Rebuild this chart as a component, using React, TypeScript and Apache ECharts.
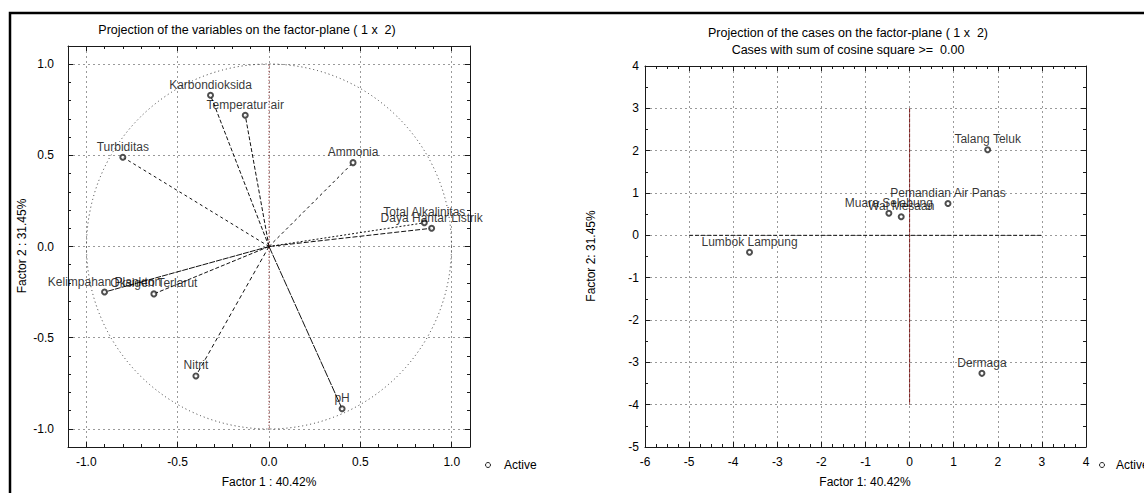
import React, { useEffect, useRef } from "react";
import * as echarts from "echarts";

const FONT = "'Liberation Sans', Arial, Helvetica, sans-serif";

// ---- Left plot: projection of the variables ----
const variableNames = [
  "Karbondioksida",
  "Temperatur air",
  "Turbiditas",
  "Ammonia",
  "Total Alkalinitas",
  "Daya Hantar Listrik",
  "Kelimpahan Plankton",
  "Oksigen Terlarut",
  "Nitrit",
  "pH",
];
const variableFactor1 = [-0.32, -0.13, -0.8, 0.46, 0.85, 0.89, -0.9, -0.63, -0.4, 0.4];
const variableFactor2 = [0.83, 0.72, 0.49, 0.46, 0.13, 0.1, -0.25, -0.26, -0.71, -0.89];
const variableTicks = [-1, -0.5, 0, 0.5, 1];
const unitCircle = [[0, 0, 1]];

// ---- Right plot: projection of the cases ----
const caseNames = [
  "Talang Teluk",
  "Pemandian Air Panas",
  "Muara Selabung",
  "Wai Mesaan",
  "Lumbok Lampung",
  "Dermaga",
];
const caseFactor1 = [1.77, 0.87, -0.47, -0.19, -3.63, 1.64];
const caseFactor2 = [2.02, 0.75, 0.52, 0.44, -0.4, -3.26];
const caseXRange = [-6, 4];
const caseYRange = [-5, 4];
const caseHorizontalRef = [[-5, 0], [3, 0]];
const caseVerticalRef = [[0, 3], [0, -4]];
const variableVerticalRef = [[0, -1], [0, 1]];

// styles (not data)
const vectorDash = [[4, 2], [4, 2], [3, 3], [3, 3], [2, 2], [5, 2], [6, 1], [4, 2], [4, 3], [8, 1]];

const GRID_LINE = { color: "#9a9a9a", type: [2, 3] as number[], width: 1 };
const AX = "#1a1a1a";

function valueAxis(
  gridIndex: number,
  position: string,
  min: number,
  max: number,
  opts: any
) {
  const main = position === "bottom" || position === "left";
  return {
    type: "value",
    gridIndex,
    position,
    min,
    max,
    ...(opts.interval ? { interval: opts.interval } : {}),
    axisLine: { show: true, onZero: false, lineStyle: { color: AX, width: 1 } },
    axisTick: {
      show: true,
      inside: true,
      length: 5,
      lineStyle: { color: AX },
      ...(opts.custom ? { customValues: opts.custom } : {}),
    },
    minorTick: { show: true, splitNumber: opts.minor, length: 3, lineStyle: { color: AX } },
    axisLabel: {
      show: main,
      color: "#000",
      fontSize: 12,
      fontFamily: FONT,
      margin: opts.margin,
      ...(opts.custom ? { customValues: opts.custom } : {}),
      ...(opts.formatter ? { formatter: opts.formatter } : {}),
    },
    splitLine: { show: main, lineStyle: GRID_LINE },
  };
}

function txt(text: string, x: number, y: number, extra: any = {}) {
  return {
    type: "text",
    x,
    y,
    silent: true,
    ...extra,
    style: {
      text,
      fill: "#000",
      fontSize: 12,
      fontFamily: FONT,
      align: "center",
      verticalAlign: "middle",
      ...(extra.style || {}),
    },
  };
}

export default function App() {
  const ref = useRef<HTMLDivElement>(null);

  useEffect(() => {
    if (!ref.current) return;
    const chart = echarts.init(ref.current, null, { renderer: "svg" });
    const fmt1 = (v: number) => v.toFixed(1);

    const variablePoints = variableNames.map((n, i) => ({
      name: n,
      value: [variableFactor1[i], variableFactor2[i]],
    }));
    const variableVectors = variableNames.map((n, i) => ({
      coords: [
        [0, 0],
        [variableFactor1[i], variableFactor2[i]],
      ],
      lineStyle: { type: vectorDash[i] },
    }));
    const casePoints = caseNames.map((n, i) => ({
      name: n,
      value: [caseFactor1[i], caseFactor2[i]],
    }));

    const labelStyle = {
      show: true,
      position: "top",
      distance: 1,
      formatter: "{b}",
      color: "#000",
      textBorderWidth: 0,
      fontSize: 12,
      fontFamily: FONT,
    };

    const option: any = {
      animation: false,
      backgroundColor: "#fff",
      textStyle: { fontFamily: FONT },
      grid: [
        { left: 68, top: 46, width: 402, height: 401, outerBoundsMode: "none", containLabel: false },
        { left: 645, top: 66, width: 441, height: 381, outerBoundsMode: "none", containLabel: false },
      ],
      xAxis: [
        valueAxis(0, "bottom", -1.1, 1.1, { custom: variableTicks, minor: 5, margin: 9, formatter: fmt1 }),
        valueAxis(0, "top", -1.1, 1.1, { custom: variableTicks, minor: 5 }),
        valueAxis(1, "bottom", caseXRange[0], caseXRange[1], { interval: 1, minor: 4, margin: 9 }),
        valueAxis(1, "top", caseXRange[0], caseXRange[1], { interval: 1, minor: 4 }),
      ],
      yAxis: [
        valueAxis(0, "left", -1.1, 1.1, { custom: variableTicks, minor: 5, margin: 14, formatter: fmt1 }),
        valueAxis(0, "right", -1.1, 1.1, { custom: variableTicks, minor: 5 }),
        valueAxis(1, "left", caseYRange[0], caseYRange[1], { interval: 1, minor: 2, margin: 6 }),
        valueAxis(1, "right", caseYRange[0], caseYRange[1], { interval: 1, minor: 2 }),
      ],
      series: [
        {
          type: "custom",
          xAxisIndex: 0,
          yAxisIndex: 0,
          silent: true,
          data: unitCircle,
          renderItem: (_p: any, api: any) => {
            const c = api.coord([api.value(0), api.value(1)]);
            const s = api.size([api.value(2), api.value(2)]);
            return {
              type: "circle",
              shape: { cx: c[0], cy: c[1], r: (s[0] + s[1]) / 2 },
              style: { fill: "none", stroke: "#333", lineWidth: 1, lineDash: [1, 3] },
            };
          },
        },
        {
          type: "line",
          xAxisIndex: 0,
          yAxisIndex: 0,
          silent: true,
          showSymbol: false,
          symbol: "none",
          data: variableVerticalRef,
          lineStyle: { color: "#8b1c1c", width: 1, type: [1, 2] },
        },
        {
          type: "lines",
          coordinateSystem: "cartesian2d",
          xAxisIndex: 0,
          yAxisIndex: 0,
          silent: true,
          data: variableVectors,
          lineStyle: { color: "#111", width: 1, opacity: 1 },
        },
        {
          type: "scatter",
          name: "Active",
          xAxisIndex: 0,
          yAxisIndex: 0,
          symbol: "emptyCircle",
          symbolSize: 5,
          itemStyle: { color: "#222", borderWidth: 1 },
          data: variablePoints,
          label: labelStyle,
        },
        {
          type: "line",
          xAxisIndex: 2,
          yAxisIndex: 2,
          silent: true,
          showSymbol: false,
          symbol: "none",
          data: caseHorizontalRef,
          lineStyle: { color: "#111", width: 1, type: [4, 2] },
        },
        {
          type: "line",
          xAxisIndex: 2,
          yAxisIndex: 2,
          silent: true,
          showSymbol: false,
          symbol: "none",
          data: caseVerticalRef,
          lineStyle: { color: "#7a1414", width: 1, type: [4, 1] },
        },
        {
          type: "scatter",
          name: "Active",
          xAxisIndex: 2,
          yAxisIndex: 2,
          symbol: "emptyCircle",
          symbolSize: 5,
          itemStyle: { color: "#222", borderWidth: 1 },
          data: casePoints,
          label: labelStyle,
        },
      ],
      graphic: [
        {
          type: "polyline",
          silent: true,
          shape: { points: [[10, 493], [10, 13], [1144, 13]] },
          style: { stroke: "#000", lineWidth: 2.5, fill: "none" },
        },
        txt("Projection of the variables on the factor-plane ( 1 x  2)", 247, 30, { style: { fontSize: 12.5 } }),
        txt("Factor 1 : 40.42%", 269, 482),
        txt("Factor 2 : 31.45%", 22, 246, { rotation: Math.PI / 2 }),
        { type: "circle", silent: true, shape: { cx: 488, cy: 465, r: 2.5 }, style: { fill: "none", stroke: "#222", lineWidth: 1 } },
        txt("Active", 504, 465, { style: { align: "left" } }),
        txt("Projection of the cases on the factor-plane ( 1 x  2)", 848, 33, { style: { fontSize: 12.5 } }),
        txt("Cases with sum of cosine square >=  0.00", 848, 50, { style: { fontSize: 12.5 } }),
        txt("Factor 1: 40.42%", 865, 482),
        txt("Factor 2: 31.45%", 591, 256, { rotation: Math.PI / 2 }),
        { type: "circle", silent: true, shape: { cx: 1102, cy: 465, r: 2.5 }, style: { fill: "none", stroke: "#222", lineWidth: 1 } },
        txt("Active", 1116, 465, { style: { align: "left" } }),
      ],
    };

    chart.setOption(option);
    return () => chart.dispose();
  }, []);

  return (
    <div
      ref={ref}
      style={{ position: "absolute", left: 0, top: 0, width: 1144, height: 493, background: "#fff" }}
    />
  );
}
